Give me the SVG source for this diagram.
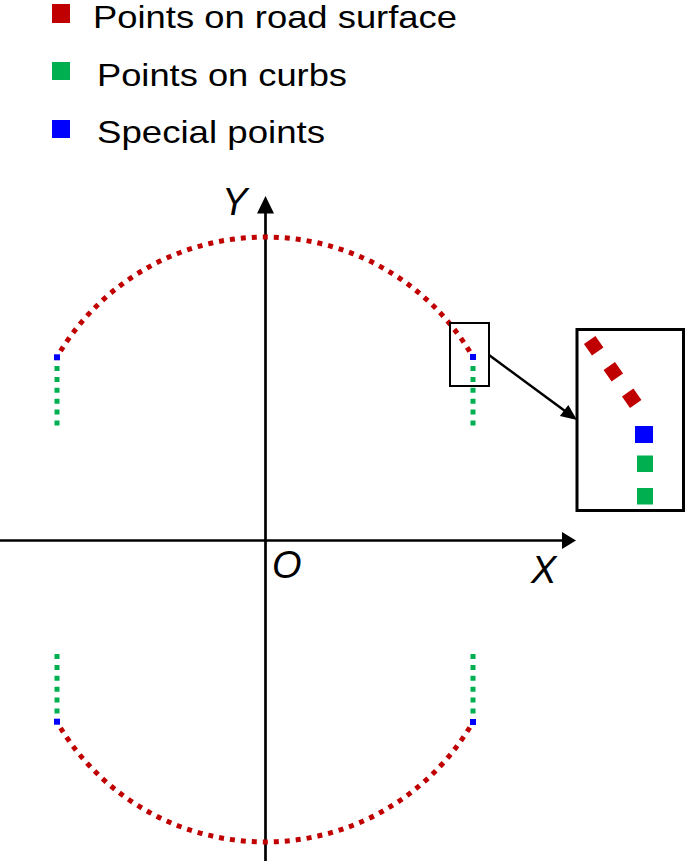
<svg xmlns="http://www.w3.org/2000/svg" width="685" height="861" viewBox="0 0 685 861">
<defs>
<style>
.lt{font-family:"Liberation Sans",Arial,sans-serif;font-size:32px;fill:#000}
.ax{font-family:"Liberation Sans",Arial,sans-serif;font-size:38px;font-style:italic;fill:#000}
.road{fill:none;stroke:#C00000;stroke-width:5;stroke-dasharray:5 6;stroke-dashoffset:3.9}
.curb{stroke:#00B050;stroke-width:5;stroke-dasharray:5 5.9}
.red{fill:#C00000}
.green{fill:#00B050}
.blue{fill:#0000FF}
.axis{stroke:#000;stroke-width:2.7;fill:none}
.box{fill:none;stroke:#000}
</style>
</defs>
<rect width="685" height="861" fill="#fff"/>
<g id="legend">
<rect class="red" x="52" y="4" width="18" height="19"/>
<text class="lt" x="93" y="28" textLength="364" lengthAdjust="spacingAndGlyphs">Points on road surface</text>
<rect class="green" x="52" y="62" width="18" height="18"/>
<text class="lt" x="97" y="86" textLength="250" lengthAdjust="spacingAndGlyphs">Points on curbs</text>
<rect class="blue" x="52" y="120" width="18" height="18"/>
<text class="lt" x="97" y="143" textLength="228" lengthAdjust="spacingAndGlyphs">Special points</text>
</g>
<g id="axes">
<line class="axis" x1="265.5" y1="212" x2="265.5" y2="861"/>
<polygon points="265.5,196 257,213.5 274,213.5" fill="#000"/>
<line class="axis" x1="0" y1="540.5" x2="563" y2="540.5"/>
<polygon points="576,540.5 562,532 562,549" fill="#000"/>
<text class="ax" x="222" y="215">Y</text>
<text class="ax" x="272" y="578">O</text>
<text class="ax" x="531" y="583">X</text>
</g>
<g id="road-top">
<path class="road" d="M57,357 A240.3,240.3 0 0 1 473,357"/>
</g>
<g id="road-bottom">
<path class="road" d="M57,722 A240.3,240.3 0 0 0 473,722"/>
</g>
<g id="curbs">
<line class="curb" x1="57" y1="366" x2="57" y2="426"/>
<line class="curb" x1="473" y1="366" x2="473" y2="426"/>
<line class="curb" x1="57" y1="654" x2="57" y2="714"/>
<line class="curb" x1="473" y1="654" x2="473" y2="714"/>
</g>
<g id="special-points">
<rect class="blue" x="54" y="354.3" width="6" height="6"/>
<rect class="blue" x="470" y="354" width="6" height="6"/>
<rect class="blue" x="54" y="718.7" width="6" height="6"/>
<rect class="blue" x="470" y="719" width="6" height="6"/>
</g>
<g id="zoom-source">
<rect class="box" x="450" y="323" width="39" height="63" stroke-width="2"/>
</g>
<g id="connectors">
<line x1="489" y1="355" x2="565" y2="411" stroke="#000" stroke-width="2.5"/>
<polygon points="577,420 559.9,416.1 568.3,404.9" fill="#000"/>
</g>
<g id="zoom-inset">
<rect class="box" x="577" y="329.5" width="106.5" height="181" stroke-width="3"/>
<rect class="red" x="586.7" y="338.7" width="14" height="14" transform="rotate(55 593.7 345.7)"/>
<rect class="red" x="606.3" y="364.7" width="14" height="14" transform="rotate(55 613.3 371.7)"/>
<rect class="red" x="624.7" y="391.3" width="14" height="14" transform="rotate(55 631.7 398.3)"/>
<rect class="blue" x="635" y="426" width="18" height="17"/>
<rect class="green" x="637" y="455.5" width="16" height="16.5"/>
<rect class="green" x="637" y="488" width="16" height="16.5"/>
</g>
</svg>
